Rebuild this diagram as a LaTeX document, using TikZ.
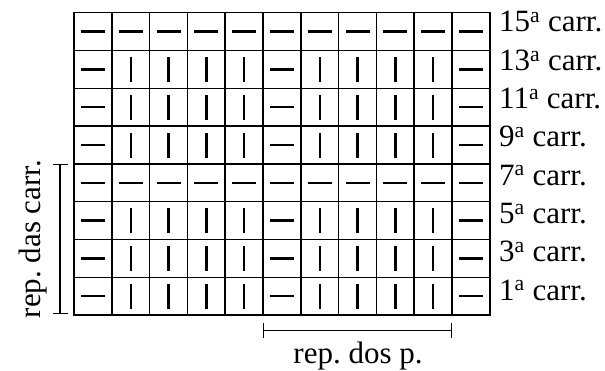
\documentclass[tikz,border=0pt]{standalone}
\usepackage{fontspec}
\setmainfont{Liberation Serif}
\usetikzlibrary{arrows.meta}
\frenchspacing
\tikzset{
  cell/.style={draw, minimum size=37.8pt, inner sep=0pt, line width=1.5pt},
  hmark/.style={line width=2.4pt},
  vmark/.style={line width=2.4pt},
  rep/.style={line width=1.1pt, {Bar[width=15pt]}-{Bar[width=15pt]}},
  lbl/.style={inner sep=0pt, font=\fontsize{31}{36}\selectfont}
}
\newcommand{\carr}[1]{#1\textsuperscript{a} carr.}

\begin{document}
\begin{tikzpicture}[x=1pt, y=-1pt]
 \useasboundingbox (0,0) rectangle (605,370);

 % grid of stitches
 \foreach \r in {1,...,8}
  \foreach \c in {1,...,11}
   \node[cell] (c\r-\c) at (55.1+37.8*\c, -6.2+37.8*\r) {};

 \foreach \r in {1,5}
  \foreach \c in {1,...,11}
   \draw[hmark] ([xshift=-12pt]c\r-\c.center) -- ([xshift=12pt]c\r-\c.center);
 \foreach \r in {2,3,4,6,7,8} {
  \foreach \c in {1,6,11}
   \draw[hmark] ([xshift=-12pt]c\r-\c.center) -- ([xshift=12pt]c\r-\c.center);
  \foreach \c in {2,3,4,5,7,8,9,10}
   \draw[vmark] ([yshift=-12.5pt]c\r-\c.center) -- ([yshift=12.5pt]c\r-\c.center);
 }

 % row labels
 \foreach \n [count=\i from 0] in {15,13,...,1}
  \node[lbl, anchor=base west] (row\n) at (499, 31.7+38.33*\i) {\carr{\n}};

 % repeats
 \coordinate (rtop) at (60,164);
 \coordinate (rbot) at (60,314);
 \draw[rep] (rtop) -- (rbot);
 \node[lbl, rotate=90, anchor=base] (repcarr) at (40,239) {rep. das carr.};

 \coordinate (pleft)  at (263.3,330.7);
 \coordinate (pright) at (452.3,330.7);
 \draw[rep] (pleft) -- (pright);
 \node[lbl, anchor=base] (repp) at (358,363.3) {rep. dos p.};
\end{tikzpicture}
\end{document}
